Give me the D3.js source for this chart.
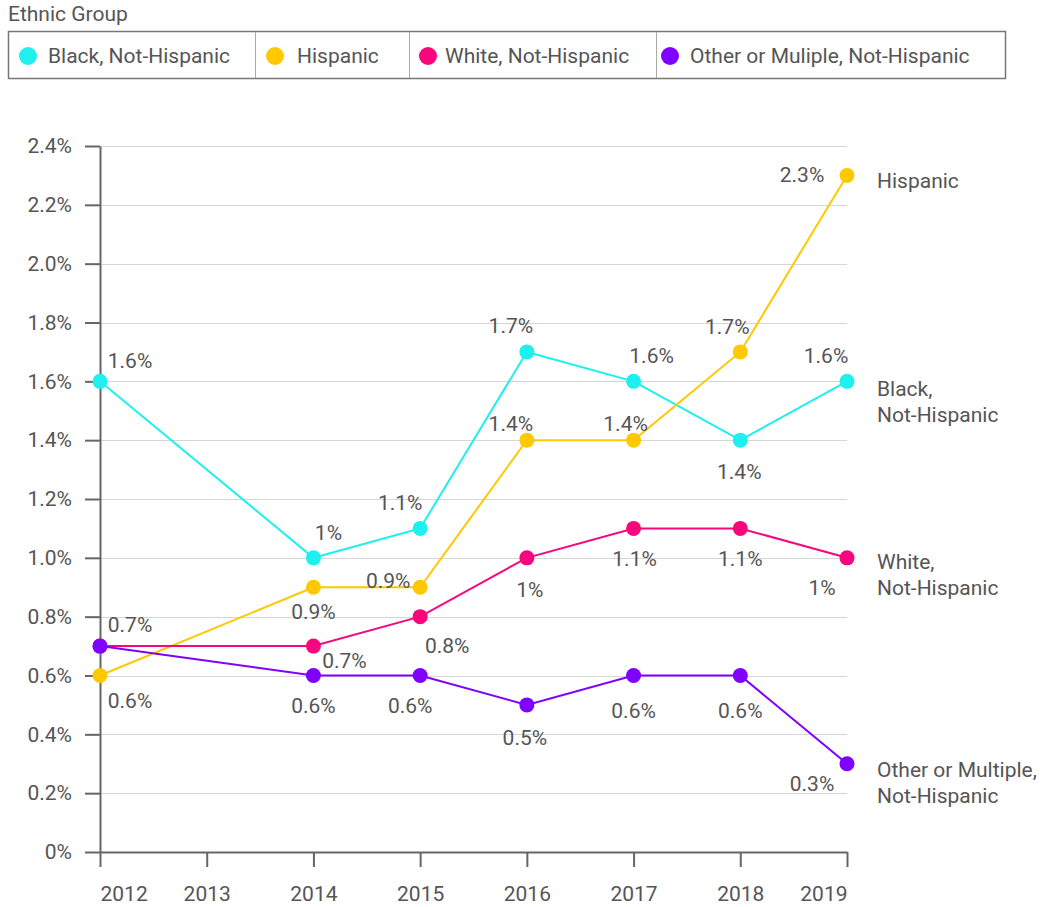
<!DOCTYPE html>
<html>
<head>
<meta charset="utf-8">
<script src="https://cdn.jsdelivr.net/npm/d3@7"></script>
<style>
  body { margin: 0; background: #fff; }
  svg { font-family: Roboto, sans-serif; }
</style>
</head>
<body>
<div id="chart"></div>
<script>
// Chart data
const years = [2012, 2014, 2015, 2016, 2017, 2018, 2019];
const xTickYears = [2012, 2013, 2014, 2015, 2016, 2017, 2018, 2019];
const yTicks = [0, 0.2, 0.4, 0.6, 0.8, 1.0, 1.2, 1.4, 1.6, 1.8, 2.0, 2.2, 2.4];

const seriesNames = ['Black, Not-Hispanic', 'Hispanic', 'White, Not-Hispanic', 'Other or Muliple, Not-Hispanic'];
const endLabels = [['Black,', 'Not-Hispanic'], ['Hispanic'], ['White,', 'Not-Hispanic'], ['Other or Multiple,', 'Not-Hispanic']];
const colors = ['#1ef0f0', '#ffc800', '#f8077c', '#7f00ff'];

const blackValues = [1.6, 1.0, 1.1, 1.7, 1.6, 1.4, 1.6];
const hispanicValues = [0.6, 0.9, 0.9, 1.4, 1.4, 1.7, 2.3];
const whiteValues = [0.7, 0.7, 0.8, 1.0, 1.1, 1.1, 1.0];
const otherValues = [0.7, 0.6, 0.6, 0.5, 0.6, 0.6, 0.3];
const allValues = [blackValues, hispanicValues, whiteValues, otherValues];

// label placement offsets (dx = center offset, dy = baseline offset), null = hidden
const labelOffsets = [
  [[30, -13], [15, -18], [-20, -18], [-16, -19], [18, -18], [-1, 39], [-21, -18]],
  [[30, 32], [0, 32], [-32, 1], [-16, -9], [-8, -9], [-13, -18], [-45, 7]],
  [[30, -14], [31, 22], [27, 36], [3, 39], [1, 38], [0, 38], [-25, 37]],
  [null, [0, 37], [-10, 37], [-2, 40], [0, 42], [0, 42], [-35, 27]]
];
const endLabelY = [396, 188, 569, 777];

const width = 1040, height = 907;
const fontSize = 21;
const x = d3.scaleLinear().domain([2012, 2019]).range([100, 847]);
const y = d3.scaleLinear().domain([0, 2.4]).range([852, 146]);
const textColor = '#555';

const svg = d3.select('#chart').append('svg')
  .attr('width', width)
  .attr('height', height);

// Legend
svg.append('text')
  .attr('x', 8).attr('y', 21)
  .attr('font-size', fontSize).attr('fill', textColor)
  .text('Ethnic Group');

const legendBox = svg.append('g');
const legendEdges = [8, 255, 409, 656, 1005];
legendBox.append('rect')
  .attr('x', 8.5).attr('y', 31.5)
  .attr('width', 997).attr('height', 47)
  .attr('fill', '#fff').attr('stroke', '#777').attr('stroke-width', 1.5);
legendEdges.slice(1, -1).forEach(e => {
  legendBox.append('line')
    .attr('x1', e + 0.5).attr('x2', e + 0.5)
    .attr('y1', 32).attr('y2', 78)
    .attr('stroke', '#aaa');
});
const legendCircleX = [28, 275, 428, 670];
const legendTextX = [48, 297, 445, 690];
seriesNames.forEach((name, i) => {
  legendBox.append('circle')
    .attr('cx', legendCircleX[i]).attr('cy', 56).attr('r', 9)
    .attr('fill', colors[i]);
  legendBox.append('text')
    .attr('x', legendTextX[i]).attr('y', 63)
    .attr('font-size', fontSize).attr('fill', textColor)
    .text(name);
});

// Gridlines
svg.append('g')
  .selectAll('line')
  .data(yTicks.filter(t => t > 0))
  .enter().append('line')
  .attr('x1', x(2012)).attr('x2', x(2019))
  .attr('y1', d => Math.round(y(d)) + 0.5).attr('y2', d => Math.round(y(d)) + 0.5)
  .attr('stroke', '#d6d6d6').attr('stroke-width', 1);

// Axes
const fmtTick = d => d === 0 ? '0%' : d.toFixed(1) + '%';
const yAxis = svg.append('g')
  .attr('transform', `translate(${x(2012)},0)`)
  .call(d3.axisLeft(y).tickValues(yTicks).tickFormat(fmtTick).tickSize(15).tickSizeOuter(0).tickPadding(13));
const xAxis = svg.append('g')
  .attr('transform', `translate(0,${y(0)})`)
  .call(d3.axisBottom(x).tickValues(xTickYears).tickFormat(d3.format('d')).tickSize(15).tickSizeOuter(0).tickPadding(19));

[yAxis, xAxis].forEach(a => {
  a.select('.domain').attr('stroke', '#666').attr('stroke-width', 2);
  a.selectAll('.tick line').attr('stroke', '#666').attr('stroke-width', 2);
  a.selectAll('.tick text').attr('fill', textColor).attr('font-size', fontSize).attr('font-family', 'Roboto, sans-serif');
});
// first and last year labels stay inside the plot edges
xAxis.selectAll('.tick text')
  .attr('text-anchor', (d, i, n) => i === 0 ? 'start' : (i === n.length - 1 ? 'end' : 'middle'));

// Lines and points
const line = d3.line()
  .x((d, i) => x(years[i]))
  .y(d => y(d));

const fmtValue = v => (+v.toFixed(1)) + '%';

allValues.forEach((vals, s) => {
  const g = svg.append('g');
  g.append('path')
    .datum(vals)
    .attr('d', line)
    .attr('fill', 'none')
    .attr('stroke', colors[s])
    .attr('stroke-width', 2);
  g.selectAll('circle')
    .data(vals)
    .enter().append('circle')
    .attr('cx', (d, i) => x(years[i]))
    .attr('cy', d => y(d))
    .attr('r', 7.5)
    .attr('fill', colors[s]);
});

// Value labels
allValues.forEach((vals, s) => {
  svg.append('g')
    .selectAll('text')
    .data(vals.map((v, i) => ({ v, i, off: labelOffsets[s][i] })).filter(d => d.off))
    .enter().append('text')
    .attr('x', d => x(years[d.i]) + d.off[0])
    .attr('y', d => y(d.v) + d.off[1])
    .attr('text-anchor', 'middle')
    .attr('font-size', fontSize)
    .attr('fill', textColor)
    .text(d => fmtValue(d.v));
});

// End labels
endLabels.forEach((lines, s) => {
  const t = svg.append('text')
    .attr('x', 877).attr('y', endLabelY[s])
    .attr('font-size', fontSize).attr('fill', textColor);
  lines.forEach((l, k) => {
    t.append('tspan').attr('x', 877).attr('dy', k === 0 ? 0 : 26).text(l);
  });
});
</script>
</body>
</html>
